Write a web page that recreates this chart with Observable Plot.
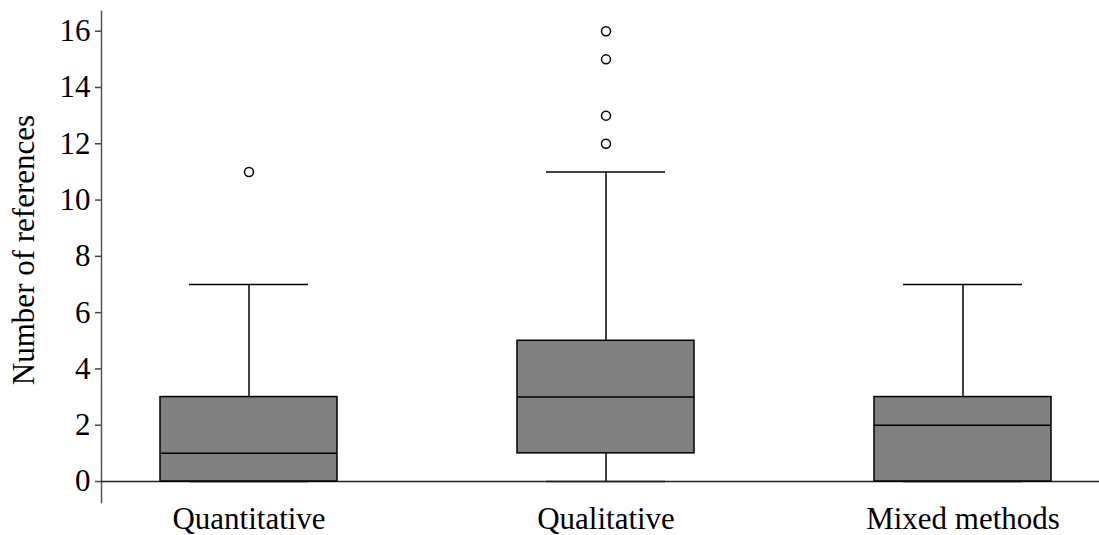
<!DOCTYPE html>
<html>
<head>
<meta charset="utf-8">
<script src="https://cdn.jsdelivr.net/npm/d3@7"></script>
<script src="https://cdn.jsdelivr.net/npm/@observablehq/plot@0.6"></script>
<style>
  html, body { margin: 0; padding: 0; background: #fff; }
  #chart svg { display: block; }
</style>
</head>
<body>
<div id="chart"></div>
<script>
const categories = ["Quantitative", "Qualitative", "Mixed methods"];
const whiskerLow = [0, 0, 0];
const q1 = [0, 1, 0];
const medians = [1, 3, 2];
const q3 = [3, 5, 3];
const whiskerHigh = [7, 11, 7];
const outlierCategory = ["Quantitative", "Qualitative", "Qualitative", "Qualitative", "Qualitative"];
const outlierValues = [11, 12, 13, 15, 16];
const yTicks = [0, 2, 4, 6, 8, 10, 12, 14, 16];
const yLabel = "Number of references";

const boxes = categories.map((c, i) => ({
  cat: c, lo: whiskerLow[i], q1: q1[i], med: medians[i], q3: q3[i], hi: whiskerHigh[i]
}));
const outliers = outlierValues.map((v, i) => ({cat: outlierCategory[i], v}));

const font = "'Liberation Serif', 'Times New Roman', serif";
const fs = 31;

const chart = Plot.plot({
  width: 1099,
  height: 535,
  marginTop: 11,
  marginBottom: 33,
  marginLeft: 101,
  marginRight: 0,
  style: {fontFamily: font, fontSize: fs + "px", color: "#000", background: "#fff"},
  x: {domain: categories, range: [159, 1051], paddingInner: 0.505, paddingOuter: 0, axis: null},
  y: {domain: [0, 16], range: [481, 30.7], axis: null},
  marks: [
    Plot.frame({anchor: "left", stroke: "#555", strokeWidth: 1.5}),
    Plot.axisY({ticks: yTicks, tickSize: 6, tickPadding: 5, label: null,
      stroke: "#444", strokeWidth: 1.5, fontSize: fs, fill: "#000"}),
    Plot.axisX({anchor: "bottom", tickSize: 0, tickPadding: 4, label: null, fontSize: fs, fill: "#000"}),
    Plot.text([yLabel], {frameAnchor: "left", textAnchor: "middle", rotate: -90, dx: -77, dy: -7, fontSize: fs, fill: "#000"}),
    Plot.ruleX(boxes, {x: "cat", y1: "lo", y2: "q1", stroke: "#000", strokeWidth: 1.5}),
    Plot.ruleX(boxes, {x: "cat", y1: "q3", y2: "hi", stroke: "#000", strokeWidth: 1.5}),
    Plot.tickY(boxes, {x: "cat", y: "lo", stroke: "#000", strokeWidth: 1.5, insetLeft: 29, insetRight: 29}),
    Plot.tickY(boxes, {x: "cat", y: "hi", stroke: "#000", strokeWidth: 1.5, insetLeft: 29, insetRight: 29}),
    Plot.ruleY([0], {stroke: "#222", strokeWidth: 1.5}),
    Plot.barY(boxes, {x: "cat", y1: "q1", y2: "q3", fill: "#808080", stroke: "#000", strokeWidth: 1.5}),
    Plot.tickY(boxes, {x: "cat", y: "med", stroke: "#000", strokeWidth: 1.5}),
    Plot.dot(outliers, {x: "cat", y: "v", r: 4.5, stroke: "#000", strokeWidth: 1.5, fill: "#fff"})
  ]
});
document.getElementById("chart").appendChild(chart);
</script>
</body>
</html>
